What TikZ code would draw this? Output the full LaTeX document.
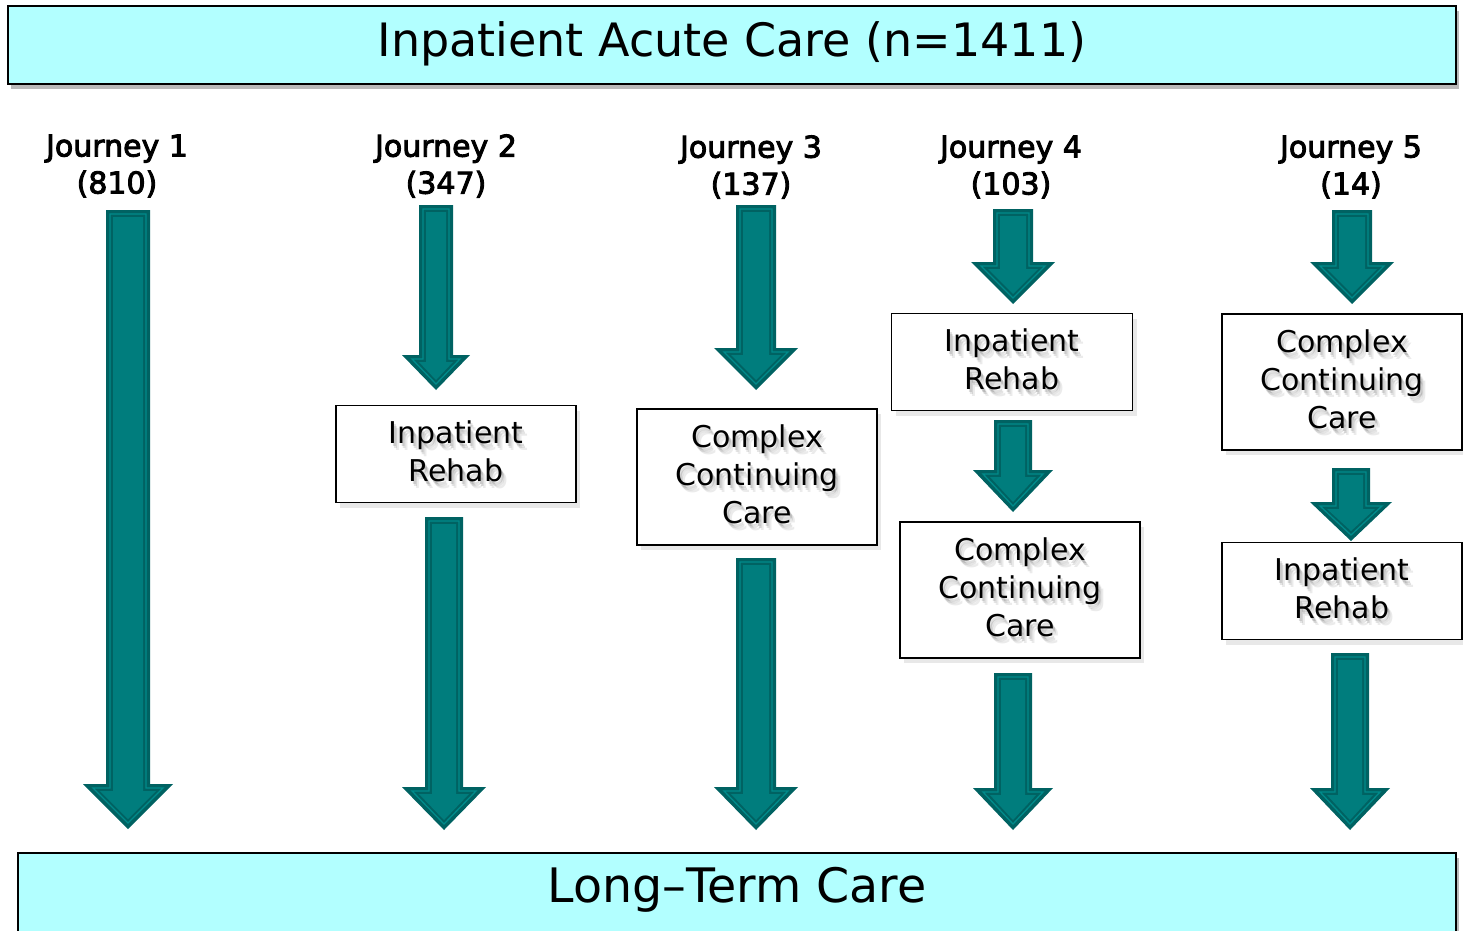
\documentclass[tikz,border=0pt]{standalone}
\usepackage{fontspec}
\setmainfont{DejaVu Sans}
\newfontfamily\labelfont[FakeBold=3]{DejaVu Sans}
\usetikzlibrary{shadows}
\definecolor{cyanbox}{HTML}{B2FFFF}
\definecolor{tealdark}{HTML}{006262}
\definecolor{tealmid}{HTML}{007D7D}
\definecolor{teallight}{HTML}{008A8A}
\tikzset{
  bigbox/.style={draw=black, line width=2.2pt, fill=cyanbox, inner sep=0pt,
    drop shadow={shadow xshift=3pt, shadow yshift=-5pt, opacity=0.45, fill=black!60}},
  stagebox/.style={draw=black, line width=1.4pt, fill=white, inner sep=0pt,
    drop shadow={shadow xshift=4pt, shadow yshift=-5pt, opacity=0.18, fill=black!50}},
  stagetext/.style={align=center, inner sep=0pt, font=\fontsize{30}{38}\selectfont},
  jlabel/.style={align=center, inner sep=0pt, font=\labelfont\fontsize{30}{37}\selectfont},
}
% \stage{name}{cx}{cy}{w}{h}{text x}{text y}{text}
\newcommand\stage[8]{%
  \node[stagebox, minimum width=#4pt, minimum height=#5pt] (#1) at (#2,#3) {};
  \node[stagetext, text=black, opacity=0.08] at (#6+5,#7+7) {#8};
  \node[stagetext, text=black, opacity=0.10] at (#6+3,#7+5) {#8};
  \node[stagetext, text=black, opacity=0.12] at (#6+2,#7+3) {#8};
  \node[stagetext] (#1-text) at (#6,#7) {#8};
}
% \blockarrow{name}{cx}{ytop}{ytip}{shaft half width}{head half width}{head length}
\newcommand\blockarrow[7]{%
  \coordinate (#1-s) at (#2,#3);
  \coordinate (#1-e) at (#2,#4);
  \fill[tealdark] (#2-#5,#3) -- (#2+#5,#3) -- (#2+#5,#4-#7) -- (#2+#6,#4-#7)
     -- (#1-e) -- (#2-#6,#4-#7) -- (#2-#5,#4-#7) -- cycle;
  \draw[teallight, line width=1.3pt]
     (#2-#5+4,#3+4) -- (#2+#5-4,#3+4) -- (#2+#5-4,#4-#7+4) -- (#2+#6-10,#4-#7+4)
     -- (#2,#4-6) -- (#2-#6+10,#4-#7+4) -- (#2-#5+4,#4-#7+4) -- cycle;
  \fill[tealmid]
     (#2-#5+7,#3+7) -- (#2+#5-7,#3+7) -- (#2+#5-7,#4-#7+7) -- (#2+#6-17,#4-#7+7)
     -- (#2,#4-10) -- (#2-#6+17,#4-#7+7) -- (#2-#5+7,#4-#7+7) -- cycle;
}
\begin{document}
\begin{tikzpicture}[x=1pt,y=-1pt]
\useasboundingbox (0,0) rectangle (1463,930);
% top and bottom boxes
\node[bigbox, minimum width=1448pt, minimum height=78pt] (top) at (732,45) {};
\node[font=\fontsize{46}{50}\selectfont] (toptext) at (732,44) {Inpatient Acute Care (n=1411)};
\node[bigbox, minimum width=1438pt, minimum height=110pt] (bottom) at (737,908) {};
\node[font=\fontsize{47.5}{50}\selectfont] (bottomtext) at (737,890) {Long–Term Care};

% journey labels
\node[jlabel] (j1) at (117,166) {Journey 1\\(810)};
\node[jlabel] (j2) at (446,166) {Journey 2\\(347)};
\node[jlabel] (j3) at (751,167) {Journey 3\\(137)};
\node[jlabel] (j4) at (1011,167) {Journey 4\\(103)};
\node[jlabel] (j5) at (1351,167) {Journey 5\\(14)};

% stage boxes
\stage{b2}{456}{454}{240}{97}{456}{451}{Inpatient\\Rehab}
\stage{b3}{757}{477}{240}{136}{757}{474}{Complex\\Continuing\\Care}
\stage{b4a}{1012}{362}{241}{97}{1012}{359}{Inpatient\\Rehab}
\stage{b4b}{1020}{590}{240}{136}{1020}{587}{Complex\\Continuing\\Care}
\stage{b5a}{1342}{382}{240}{136}{1342}{379}{Complex\\Continuing\\Care}
\stage{b5b}{1342}{591}{240}{97}{1342}{588}{Inpatient\\Rehab}

% arrows
\blockarrow{a1}{128}{210}{829}{22}{45}{45}
\blockarrow{a2a}{436}{205}{390}{17}{34}{35}
\blockarrow{a2b}{444}{517}{830}{19}{42}{43}
\blockarrow{a3a}{756}{205}{390}{20}{42}{42}
\blockarrow{a3b}{756}{558}{830}{20}{42}{43}
\blockarrow{a4a}{1013}{209}{304}{20}{42}{42}
\blockarrow{a4b}{1013}{420}{512}{19}{40}{42}
\blockarrow{a4c}{1013}{673}{830}{19}{40}{42}
\blockarrow{a5a}{1352}{210}{304}{20}{42}{42}
\blockarrow{a5b}{1351}{468}{541}{19}{41}{39}
\blockarrow{a5c}{1350}{653}{830}{19}{40}{42}
\end{tikzpicture}
\end{document}
